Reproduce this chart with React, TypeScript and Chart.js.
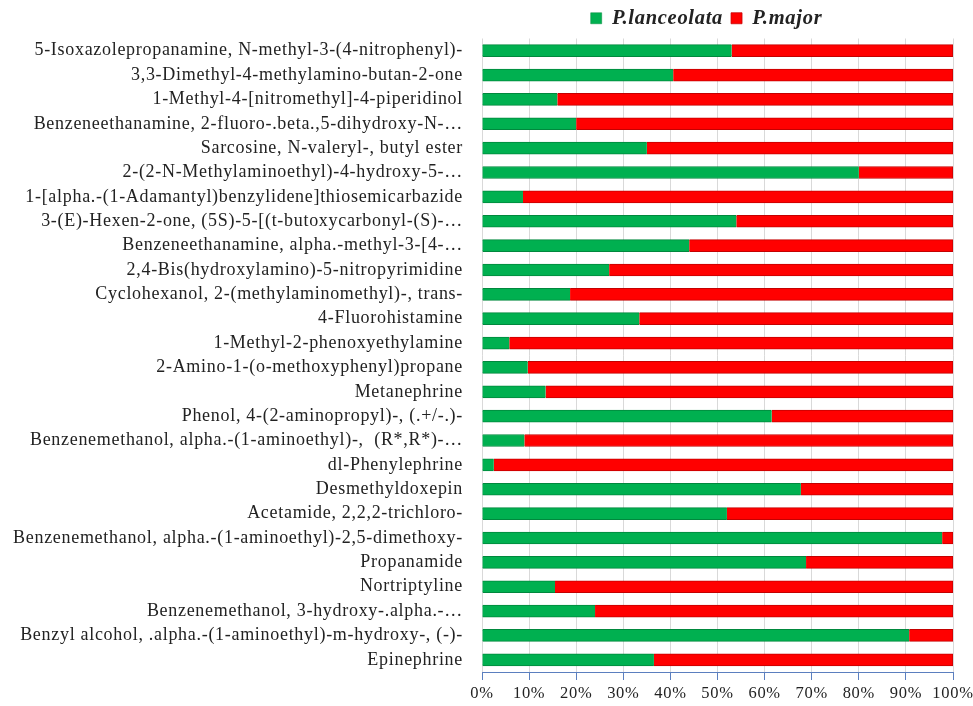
import React, { useEffect, useRef } from "react";
import { Chart, registerables } from "chart.js";

Chart.register(...registerables);

const categories = [
  "5-Isoxazolepropanamine, N-methyl-3-(4-nitrophenyl)-",
  "3,3-Dimethyl-4-methylamino-butan-2-one",
  "1-Methyl-4-[nitromethyl]-4-piperidinol",
  "Benzeneethanamine, 2-fluoro-.beta.,5-dihydroxy-N-…",
  "Sarcosine, N-valeryl-, butyl ester",
  "2-(2-N-Methylaminoethyl)-4-hydroxy-5-…",
  "1-[alpha.-(1-Adamantyl)benzylidene]thiosemicarbazide",
  "3-(E)-Hexen-2-one, (5S)-5-[(t-butoxycarbonyl-(S)-…",
  "Benzeneethanamine, alpha.-methyl-3-[4-…",
  "2,4-Bis(hydroxylamino)-5-nitropyrimidine",
  "Cyclohexanol, 2-(methylaminomethyl)-, trans-",
  "4-Fluorohistamine",
  "1-Methyl-2-phenoxyethylamine",
  "2-Amino-1-(o-methoxyphenyl)propane",
  "Metanephrine",
  "Phenol, 4-(2-aminopropyl)-, (.+/-.)-",
  "Benzenemethanol, alpha.-(1-aminoethyl)-,  (R*,R*)-…",
  "dl-Phenylephrine",
  "Desmethyldoxepin",
  "Acetamide, 2,2,2-trichloro-",
  "Benzenemethanol, alpha.-(1-aminoethyl)-2,5-dimethoxy-",
  "Propanamide",
  "Nortriptyline",
  "Benzenemethanol, 3-hydroxy-.alpha.-…",
  "Benzyl alcohol, .alpha.-(1-aminoethyl)-m-hydroxy-, (-)-",
  "Epinephrine",
];

const lanceolata = [53, 40.6, 16, 20, 35, 80, 8.7, 54, 44, 27, 18.7, 33.4, 5.8, 9.7, 13.5, 61.5, 9, 2.5, 67.7, 52, 97.7, 68.8, 15.5, 24, 90.7, 36.5];
const major = [47, 59.4, 84, 80, 65, 20, 91.3, 46, 56, 73, 81.3, 66.6, 94.2, 90.3, 86.5, 38.5, 91, 97.5, 32.3, 48, 2.3, 31.2, 84.5, 76, 9.3, 63.5];

const seriesNames = ["P.lanceolata", "P.major"];
const xTicks = [0, 10, 20, 30, 40, 50, 60, 70, 80, 90, 100];

const serif = '"Liberation Serif", "Times New Roman", serif';

export default function App() {
  const ref = useRef<HTMLCanvasElement | null>(null);

  useEffect(() => {
    if (!ref.current) return;
    const spacing = (chart: any) => {
      try {
        (chart.ctx as any).letterSpacing = "0.7px";
      } catch (e) {}
    };
    const textTweak = {
      id: "textTweak",
      beforeLayout(chart: any) {
        spacing(chart);
      },
      afterLayout(chart: any) {
        const lg = chart.legend;
        if (lg && chart.chartArea) {
          lg.left = chart.chartArea.left - 22;
          lg.right = chart.chartArea.right;
        }
      },
      beforeUpdate(chart: any) {
        spacing(chart);
      },
      beforeDraw(chart: any) {
        spacing(chart);
      },
    };
    const chart = new Chart(ref.current, {
      type: "bar",
      data: {
        labels: categories,
        datasets: [
          {
            label: seriesNames[0],
            data: lanceolata,
            backgroundColor: "#00B050",
            borderColor: "#00883d",
            borderWidth: { top: 1, bottom: 1, left: 0, right: 0 } as any,
            borderSkipped: false,
            barThickness: 12,
          },
          {
            label: seriesNames[1],
            data: major,
            backgroundColor: "#FF0000",
            borderColor: "#c40000",
            borderWidth: { top: 1, bottom: 1, left: 0, right: 1 } as any,
            borderSkipped: false,
            barThickness: 12,
          },
        ],
      },
      options: {
        indexAxis: "y",
        animation: false,
        responsive: true,
        maintainAspectRatio: false,
        layout: { padding: { left: 8, right: 20, top: 0, bottom: 0 } },
        plugins: {
          tooltip: { enabled: false },
          legend: {
            position: "top",
            align: "center",
            labels: {
              boxWidth: 11,
              boxHeight: 11,
              padding: 8,
              color: "#222",
              font: { family: serif, size: 20.5, style: "italic", weight: "bold" },
            },
          },
        },
        scales: {
          x: {
            stacked: true,
            min: 0,
            max: 100,
            afterBuildTicks(scale: any) {
              scale.ticks = xTicks.map((v) => ({ value: v }));
            },
            afterFit(scale: any) {
              scale.height = 34;
              scale.paddingLeft = 0;
              scale.paddingRight = 0;
            },
            ticks: {
              callback: (v: any) => v + "%",
              color: "#222",
              font: { family: serif, size: 16.5 },
              padding: 4,
              maxRotation: 0,
              autoSkip: false,
            },
            grid: {
              color: "#d9d9d9",
              tickColor: "#5b7fbf",
              tickLength: 8,
              drawTicks: true,
            },
            border: { display: true, color: "#5b7fbf", width: 1 },
          },
          y: {
            stacked: true,
            afterFit(scale: any) {
              scale.width = 474;
              scale.paddingTop = 0;
              scale.paddingBottom = 0;
            },
            ticks: {
              color: "#222",
              font: { family: serif, size: 18 },
              padding: 19,
              autoSkip: false,
            },
            grid: { display: false, drawTicks: false },
            border: { display: false },
          },
        },
      },
      plugins: [textTweak],
    } as any);
    return () => chart.destroy();
  }, []);

  return (
    <div style={{ position: "fixed", left: 0, top: 0, width: 973, height: 706, background: "#fff" }}>
      <canvas ref={ref} />
    </div>
  );
}
